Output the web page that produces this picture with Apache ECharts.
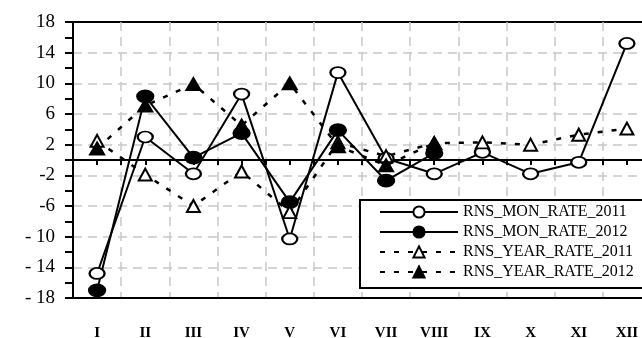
<!DOCTYPE html>
<html>
<head>
<meta charset="utf-8">
<script src="https://cdn.jsdelivr.net/npm/echarts@6/dist/echarts.min.js"></script>
<style>
  html, body { margin: 0; padding: 0; background: #fff; }
  #rate_chart { width: 642px; height: 338px; }
</style>
</head>
<body>
<div id="rate_chart"></div>
<script>
  // months, roman numerals as on the original sheet
  var months = ['I', 'II', 'III', 'IV', 'V', 'VI', 'VII', 'VIII', 'IX', 'X', 'XI', 'XII'];

  var monRate2011 = [-14.8, 3.0, -1.8, 8.6, -10.3, 11.4, 0.2, -1.8, 1.0, -1.8, -0.3, 15.2];
  var monRate2012 = [-17.0, 8.3, 0.3, 3.5, -5.5, 3.9, -2.7, 0.9];
  var yearRate2011 = [2.5, -1.9, -6.0, -1.5, -6.8, 2.3, 0.5, 2.2, 2.3, 2.0, 3.3, 4.1];
  var yearRate2012 = [1.5, 7.1, 9.9, 4.5, 10.0, 1.8, -0.7, 2.2];

  var serif = 'Liberation Serif';

  var chart = echarts.init(document.getElementById('rate_chart'));

  function makeLine(name, data, symbol, size, filled, dashed) {
    return {
      name: name,
      type: 'line',
      data: data,
      symbol: symbol,
      symbolSize: size,
      showAllSymbol: true,
      itemStyle: {
        color: filled ? '#000' : '#fff',
        borderColor: '#000',
        borderWidth: 2
      },
      lineStyle: {
        color: '#000',
        width: dashed ? 2.5 : 2,
        type: dashed ? [5, 9] : 'solid'
      }
    };
  }

  var option = {
    animation: false,
    backgroundColor: '#fff',
    grid: {
      show: true,
      left: 73,
      top: 22,
      right: -9,
      bottom: 40,
      outerBoundsMode: 'none',
      borderColor: '#000',
      borderWidth: 2
    },
    legend: {
      orient: 'vertical',
      left: 360,
      top: 200,
      padding: [4, 50, 8, 19],
      itemWidth: 78,
      itemHeight: 14,
      itemGap: 4,
      backgroundColor: '#fff',
      borderColor: '#000',
      borderWidth: 2,
      textStyle: {
        fontFamily: serif,
        fontSize: 16,
        color: '#000'
      },
      data: ['RNS_MON_RATE_2011', 'RNS_MON_RATE_2012', 'RNS_YEAR_RATE_2011', 'RNS_YEAR_RATE_2012']
    },
    xAxis: [{
      type: 'category',
      data: months,
      position: 'bottom',
      boundaryGap: true,
      axisLine: { onZero: false, lineStyle: { color: '#000', width: 2 } },
      axisTick: { show: false },
      axisLabel: {
        margin: 28,
        fontFamily: serif,
        fontWeight: 'bold',
        fontSize: 15,
        color: '#000'
      },
      splitLine: {
        show: true,
        showMinLine: false,
        lineStyle: { color: '#c8c8c8', width: 1.5, type: [9, 6] }
      }
    }, {
      // zero line with ticks between the months
      type: 'category',
      data: months,
      position: 'bottom',
      boundaryGap: true,
      axisLine: { onZero: true, onZeroAxisIndex: 0, lineStyle: { color: '#000', width: 2 } },
      axisTick: { show: true, length: 5, lineStyle: { color: '#000', width: 2 } },
      axisLabel: { show: false },
      splitLine: { show: false }
    }, {
      // ticks under each month
      type: 'category',
      data: months,
      position: 'bottom',
      boundaryGap: true,
      axisLine: { show: false, onZero: true, onZeroAxisIndex: 0 },
      axisTick: { show: true, alignWithLabel: true, length: 5, lineStyle: { color: '#000', width: 2 } },
      axisLabel: { show: false },
      splitLine: { show: false }
    }],
    yAxis: {
      type: 'value',
      min: -18,
      max: 18,
      interval: 4,
      axisLine: { show: true, lineStyle: { color: '#000', width: 2 } },
      axisTick: { show: true, length: 8, lineStyle: { color: '#000', width: 2 } },
      minorTick: { show: true, splitNumber: 2, length: 8, lineStyle: { color: '#000', width: 2 } },
      axisLabel: {
        margin: 18,
        fontFamily: serif,
        fontSize: 19,
        color: '#000',
        formatter: function (v) {
          if (v <= -10) return '- ' + Math.abs(v);
          return String(v);
        }
      },
      splitLine: {
        show: true,
        showMinLine: false,
        showMaxLine: false,
        lineStyle: { color: '#c8c8c8', width: 1.5, type: [9, 6] }
      }
    },
    series: [
      makeLine('RNS_MON_RATE_2011', monRate2011, 'circle', [15, 11], false, false),
      makeLine('RNS_MON_RATE_2012', monRate2012, 'circle', [16, 12], true, false),
      makeLine('RNS_YEAR_RATE_2011', yearRate2011, 'triangle', [13, 12], false, true),
      makeLine('RNS_YEAR_RATE_2012', yearRate2012, 'triangle', [14, 12], true, true)
    ]
  };

  chart.setOption(option);
</script>
</body>
</html>
